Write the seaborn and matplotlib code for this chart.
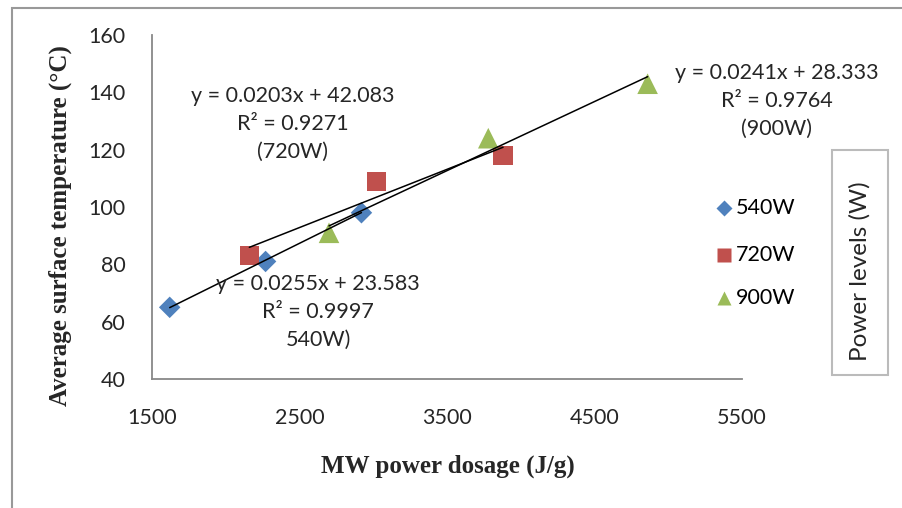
import numpy as np
import pandas as pd
import matplotlib
matplotlib.use("Agg")
import matplotlib.pyplot as plt
import seaborn as sns
from matplotlib.patches import Rectangle

# Measured points per power level
dose_540 = [1620, 2270, 2920]
temp_540 = [65, 81, 98]
dose_720 = [2160, 3020, 3880]
temp_720 = [83, 109, 118]
dose_900 = [2700, 3780, 4860]
temp_900 = [91, 124, 143]

levels = ["540W", "720W", "900W"]
slopes = [0.0255, 0.0203, 0.0241]
intercepts = [23.583, 42.083, 28.333]
r_squared = [0.9997, 0.9271, 0.9764]
fit_labels = ["540W)", "(720W)", "(900W)"]

x_ticks = [1500, 2500, 3500, 4500, 5500]
y_ticks = [40, 60, 80, 100, 120, 140, 160]

df = pd.DataFrame({
    "dose": dose_540 + dose_720 + dose_900,
    "temp": temp_540 + temp_720 + temp_900,
    "level": ["540W"] * 3 + ["720W"] * 3 + ["900W"] * 3,
})

sns.set_style("white")
sans = "Lato"
serif_font = "Liberation Serif"
W, H = 902, 508

fig = plt.figure(figsize=(W / 100, H / 100), dpi=100)
ax = fig.add_axes([152 / W, 1 - 379 / H, (742 - 152) / W, (379 - 35) / H])

palette = {"540W": "#4F81BD", "720W": "#C0504D", "900W": "#9BBB59"}
markers = {"540W": "D", "720W": "s", "900W": "^"}
sizes = {"540W": 120, "720W": 190, "900W": 220}

for lvl in levels:
    sub = df[df["level"] == lvl]
    sns.scatterplot(data=sub, x="dose", y="temp", color=palette[lvl],
                    marker=markers[lvl], s=sizes[lvl], edgecolor="none",
                    ax=ax, legend=False, zorder=3)

# Linear trendlines across each series' dose range
for lvl, m, b in zip(levels, slopes, intercepts):
    sub = df[df["level"] == lvl]
    xs = np.array([sub["dose"].min(), sub["dose"].max()])
    ax.plot(xs, m * xs + b, color="black", lw=1.1, zorder=4)

ax.set_xlim(1500, 5500)
ax.set_ylim(40, 160)
ax.set_xticks(x_ticks)
ax.set_yticks(y_ticks)
ax.tick_params(axis="both", direction="out", length=7, width=1.2, color="#888888",
               labelsize=15.5)
ax.tick_params(axis="y", pad=12)
ax.tick_params(axis="x", pad=14)
for lab in ax.get_xticklabels() + ax.get_yticklabels():
    lab.set_fontfamily(sans)
for side in ["top", "right"]:
    ax.spines[side].set_visible(False)
for side in ["left", "bottom"]:
    ax.spines[side].set_color("#888888")
    ax.spines[side].set_linewidth(1.3)

ax.set_xlabel("MW power dosage (J/g)", fontfamily=serif_font, fontweight="bold",
              fontsize=18)
ax.set_ylabel("Average surface temperature (°C)", fontfamily=serif_font,
              fontweight="bold", fontsize=18)
ax.xaxis.set_label_coords((448 - 152) / (742 - 152), -(466 - 379) / (379 - 35))
ax.yaxis.set_label_coords(-(152 - 60) / (742 - 152), (379 - 226) / (379 - 35))
ax.xaxis.label.set_va("center")
ax.yaxis.label.set_va("center")

# Trendline equations
eq_pos = {"540W": (318, 312), "720W": (293, 124), "900W": (777, 101)}
for lvl, m, b, r2, tag in zip(levels, slopes, intercepts, r_squared, fit_labels):
    px, py = eq_pos[lvl]
    txt = f"y = {m}x + {b}\nR² = {r2}\n{tag}"
    fig.text(px / W, 1 - py / H, txt, ha="center", va="center",
             fontfamily=sans, fontsize=15.5, linespacing=1.5)

# Legend entries
leg_rows = [208, 255, 298]
for py, lvl in zip(leg_rows, levels):
    fig.text(736 / W, 1 - py / H, lvl, ha="left", va="center",
             fontfamily=sans, fontsize=15.5, color="black")
    fig.add_artist(plt.Line2D([724 / W], [1 - py / H], linestyle="none",
                              marker=markers[lvl], color=palette[lvl],
                              markersize=8 if lvl == "540W" else 10,
                              markeredgecolor="none", transform=fig.transFigure))

# Boxed legend title
fig.add_artist(Rectangle((832 / W, 1 - 375 / H), (888 - 832) / W, (375 - 150) / H,
                         transform=fig.transFigure, fill=False,
                         edgecolor="#BBBBBB", lw=1.5))
fig.text(860 / W, 1 - 271 / H, "Power levels (W)", rotation=90,
         ha="center", va="center", fontfamily=sans, fontsize=17.5)

# Outer frame
fig.add_artist(Rectangle((12 / W, -0.05), 1.0, (H - 8) / H + 0.05,
                         transform=fig.transFigure, fill=False,
                         edgecolor="#999999", lw=1.5))

fig.savefig("out.png", dpi=100)
